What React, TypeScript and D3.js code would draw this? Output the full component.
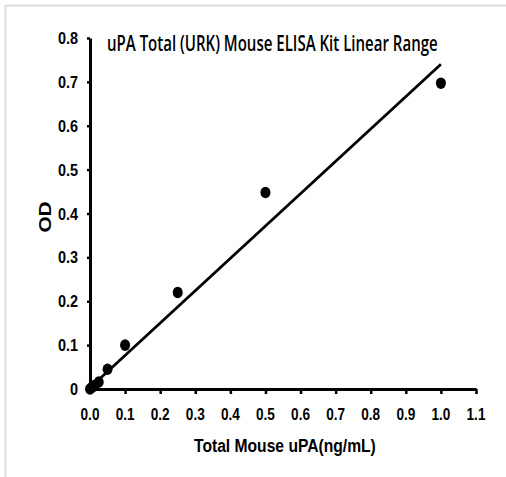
import React, { useEffect, useRef } from 'react';
import * as d3 from 'd3';

// standard curve points
const concentrations = [0, 0.006, 0.0125, 0.025, 0.05, 0.1, 0.25, 0.5, 1.0];
const odValues = [0, 0.004, 0.008, 0.016, 0.045, 0.1, 0.22, 0.448, 0.697];

// fitted linear trendline end points
const fitX = [0, 1.0];
const fitY = [0.003, 0.74];

const xTicks = [0, 0.1, 0.2, 0.3, 0.4, 0.5, 0.6, 0.7, 0.8, 0.9, 1.0, 1.1];
const yTicks = [0, 0.1, 0.2, 0.3, 0.4, 0.5, 0.6, 0.7, 0.8];

const title = 'uPA Total (URK) Mouse ELISA Kit Linear Range';
const xTitle = 'Total Mouse uPA(ng/mL)';
const yTitle = 'OD';

const App: React.FC = () => {
  const ref = useRef<SVGSVGElement | null>(null);

  useEffect(() => {
    if (!ref.current) return;
    const svg = d3.select(ref.current);
    svg.selectAll('*').remove();

    const width = 506;
    const height = 477;
    svg.attr('width', width).attr('height', height);

    const x = d3.scaleLinear().domain([0, 1.1]).range([90, 476]);
    const y = d3.scaleLinear().domain([0, 0.8]).range([389, 38]);

    const sansFont = '"Liberation Sans", Arial, sans-serif';
    const narrow = 0.8; // reference type is horizontally squeezed

    // frame
    svg.append('line').attr('x1', 5.5).attr('x2', 5.5).attr('y1', 5).attr('y2', height)
      .attr('stroke', '#dcdcdc').attr('stroke-width', 2);
    svg.append('line').attr('x1', 5).attr('x2', width).attr('y1', 5.5).attr('y2', 5.5)
      .attr('stroke', '#dcdcdc').attr('stroke-width', 2);

    // x axis
    const xAxis = svg.append('g').attr('transform', `translate(0,${y(0)})`)
      .call(d3.axisBottom(x).tickValues(xTicks).tickSize(5).tickSizeOuter(0).tickFormat(() => ''));
    xAxis.select('.domain').attr('stroke', '#000').attr('stroke-width', 3);
    xAxis.selectAll('.tick line').attr('stroke', '#000').attr('stroke-width', 2.5);

    svg.append('g').selectAll('text')
      .data(xTicks)
      .enter()
      .append('text')
      .attr('transform', (d) => `translate(${x(d)},420) scale(${narrow},1)`)
      .attr('text-anchor', 'middle')
      .attr('font-family', sansFont).attr('font-weight', 'bold').attr('font-size', 17)
      .attr('fill', '#000')
      .text((d) => d3.format('.1f')(d));

    // y axis
    const yAxis = svg.append('g').attr('transform', `translate(${x(0)},0)`)
      .call(d3.axisLeft(y).tickValues(yTicks).tickSize(3).tickSizeOuter(0).tickFormat(() => ''));
    yAxis.select('.domain').attr('stroke', '#000').attr('stroke-width', 3);
    yAxis.selectAll('.tick line').attr('stroke', '#000').attr('stroke-width', 2.5);

    svg.append('g').selectAll('text')
      .data(yTicks)
      .enter()
      .append('text')
      .attr('transform', (d) => `translate(78,${y(d) + 6}) scale(${narrow + 0.05},1)`)
      .attr('text-anchor', 'end')
      .attr('font-family', sansFont).attr('font-weight', 'bold').attr('font-size', 17)
      .attr('fill', '#000')
      .text((d) => (d === 0 ? '0' : d3.format('.1f')(d)));

    // trendline
    const line = d3.line<number>().x((d) => x(d)).y((_, i) => y(fitY[i]));
    svg.append('path').attr('d', line(fitX) as string)
      .attr('fill', 'none').attr('stroke', '#000').attr('stroke-width', 2.8);

    // points
    svg.append('g').selectAll('ellipse')
      .data(concentrations)
      .enter()
      .append('ellipse')
      .attr('cx', (d) => x(d))
      .attr('cy', (_, i) => y(odValues[i]))
      .attr('rx', 5)
      .attr('ry', 5.8)
      .attr('fill', '#000');

    // squeeze a text horizontally so it spans the wanted width
    const fitText = (sel: d3.Selection<SVGTextElement, unknown, null, undefined>, tx: number, ty: number, target: number) => {
      const w = (sel.node() as SVGTextElement).getComputedTextLength() || target;
      sel.attr('transform', `translate(${tx},${ty}) scale(${target / w},1)`);
    };

    const t = svg.append('text')
      .attr('font-family', '"Open Sans", sans-serif').attr('font-size', 22).attr('font-weight', 600)
      .attr('fill', '#000').text(title);
    fitText(t, 107, 51, 331);

    const xt = svg.append('text')
      .attr('font-family', sansFont).attr('font-size', 19).attr('font-weight', 'bold')
      .attr('fill', '#000').text(xTitle);
    fitText(xt, 194, 452, 182);

    svg.append('text').attr('transform', 'translate(51,217) rotate(-90) scale(1.3,1)')
      .attr('text-anchor', 'middle')
      .attr('font-family', sansFont).attr('font-size', 16).attr('font-weight', 'bold')
      .attr('fill', '#000').text(yTitle);
  }, []);

  return <svg ref={ref} style={{ position: 'absolute', left: 0, top: 0 }}></svg>;
};

export default App;
